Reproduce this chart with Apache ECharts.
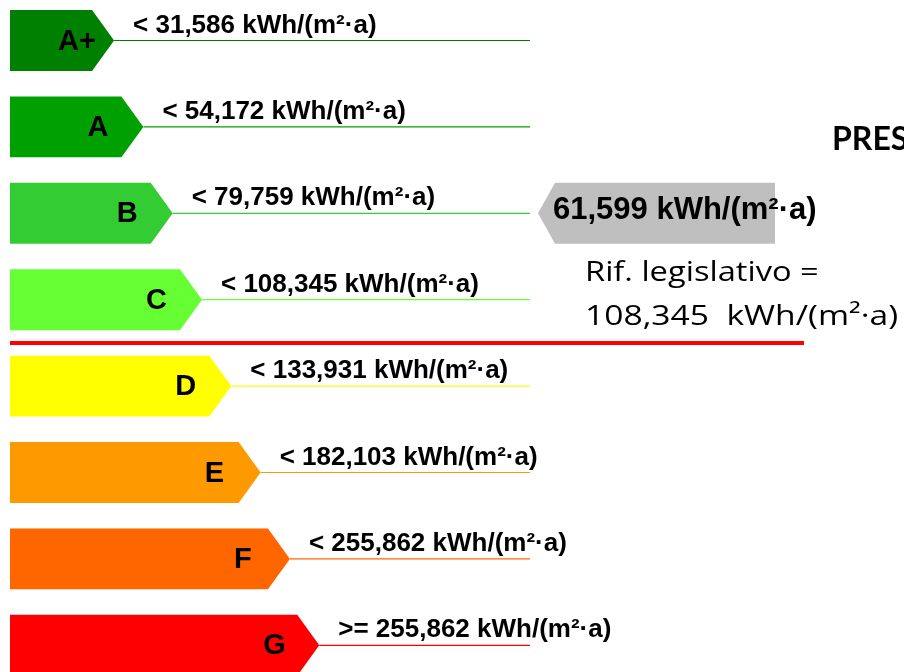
<!DOCTYPE html>
<html>
<head>
<meta charset="utf-8">
<script src="https://cdn.jsdelivr.net/npm/echarts@6/dist/echarts.min.js"></script>
<style>
  html, body { margin: 0; padding: 0; background: #fff; }
  #chart { width: 904px; height: 672px; }
</style>
</head>
<body>
<div id="chart"></div>
<script>
  // classi energetiche e relativi limiti
  const classes = ['A+', 'A', 'B', 'C', 'D', 'E', 'F', 'G']
  const limits = ['< 31,586', '< 54,172', '< 79,759', '< 108,345', '< 133,931', '< 182,103', '< 255,862', '>= 255,862']
  const barLength = [1, 2, 3, 4, 5, 6, 7, 8]
  const classColors = ['#008000', '#00a000', '#33cc33', '#66ff33', '#ffff00', '#ff9900', '#ff6600', '#ff0000']
  const unit = ' kWh/(m²·a)'

  // prestazione dell'edificio e riferimento di legge
  const currentValue = '61,599'
  const currentClass = 'B'
  const referenceValue = '108,345'
  const referenceClass = 'C'

  const X_MIN = -1.8
  const X_MAX = 28.7
  const TIP = 22
  const LINE_END = 530
  const BOLD = '"Liberation Sans", Arial, sans-serif'
  const REGULAR = '"Open Sans", sans-serif'

  function renderBar(params, api) {
    const idx = api.value(1)
    const end = api.coord([api.value(0), idx])
    const start = api.coord([X_MIN, idx])
    const h = api.size([0, 1])[1] * 0.705
    const top = end[1] - h / 2
    const bottom = end[1] + h / 2
    const color = classColors[idx]
    return {
      type: 'group',
      children: [
        {
          type: 'polygon',
          shape: { points: [[start[0], top], [end[0], top], [end[0] + TIP, end[1]], [end[0], bottom], [start[0], bottom]] },
          style: { fill: color }
        },
        {
          type: 'line',
          shape: { x1: end[0] + TIP, y1: end[1], x2: LINE_END, y2: end[1] },
          style: { stroke: color, fill: null, lineWidth: 1.2 }
        },
        {
          type: 'text',
          style: {
            text: classes[idx], x: end[0] - 34, y: end[1] + 1,
            fontSize: 29, fontWeight: 'bold', fontFamily: BOLD, fill: '#000',
            align: 'left', verticalAlign: 'middle'
          }
        },
        {
          type: 'text',
          style: {
            text: limits[idx] + unit, x: end[0] + TIP + 19, y: end[1] - 15,
            fontSize: 26, fontWeight: 'bold', fontFamily: BOLD, fill: '#000',
            align: 'left', verticalAlign: 'middle'
          }
        }
      ]
    }
  }

  // freccia grigia con il valore dell'edificio
  function renderCurrent(params, api) {
    const c = api.coord([0, api.value(1)])
    const h = api.size([0, 1])[1] * 0.705
    const x0 = LINE_END + 8
    return {
      type: 'group',
      children: [
        {
          type: 'polygon',
          shape: { points: [[x0, c[1]], [x0 + 17, c[1] - h / 2], [775, c[1] - h / 2], [775, c[1] + h / 2], [x0 + 17, c[1] + h / 2]] },
          style: { fill: '#bfbfbf' }
        },
        {
          type: 'text',
          style: {
            text: currentValue + unit, x: x0 + 15, y: c[1] - 3,
            fontSize: 31, fontWeight: 'bold', fontFamily: BOLD, fill: '#000',
            align: 'left', verticalAlign: 'middle'
          }
        }
      ]
    }
  }

  // linea rossa sotto la classe di riferimento
  function renderReference(params, api) {
    const c = api.coord([0, api.value(1)])
    const band = api.size([0, 1])[1]
    const left = api.coord([X_MIN, api.value(1)])[0]
    const y = c[1] + band / 2
    return {
      type: 'line',
      shape: { x1: left, y1: y, x2: 804, y2: y },
      style: { stroke: '#ff0000', lineWidth: 4 }
    }
  }

  const chart = echarts.init(document.getElementById('chart'))
  chart.setOption({
    animation: false,
    grid: { left: 10, right: 0, top: -2.7, height: 691.2, outerBoundsMode: 'none' },
    xAxis: { type: 'value', min: X_MIN, max: X_MAX, show: false },
    yAxis: { type: 'category', data: classes, inverse: true, show: false },
    graphic: [
      {
        type: 'text', x: 832, y: 140,
        style: { text: 'PRESTAZIONE', fontSize: 32, fontWeight: 'bold', fontFamily: 'Lato, sans-serif', fill: '#000', verticalAlign: 'middle' }
      },
      {
        type: 'text', x: 585, y: 273, scaleX: 1.165,
        style: { text: 'Rif. legislativo =', fontSize: 28, fontFamily: REGULAR, fill: '#000', verticalAlign: 'middle' }
      },
      {
        type: 'text', x: 585, y: 317, scaleX: 1.2,
        style: { text: referenceValue + ' ' + unit, fontSize: 28, fontFamily: REGULAR, fill: '#000', verticalAlign: 'middle' }
      }
    ],
    series: [
      {
        type: 'custom',
        renderItem: renderBar,
        data: classes.map((c, i) => [barLength[i], i])
      },
      {
        type: 'custom',
        renderItem: renderReference,
        data: [[0, classes.indexOf(referenceClass)]]
      },
      {
        type: 'custom',
        renderItem: renderCurrent,
        data: [[0, classes.indexOf(currentClass)]]
      }
    ]
  })
</script>
</body>
</html>
